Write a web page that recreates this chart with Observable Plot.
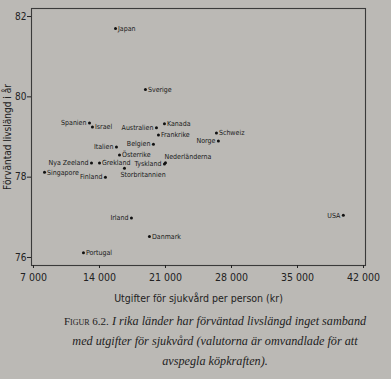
<!DOCTYPE html>
<html><head><meta charset="utf-8">
<script src="https://cdn.jsdelivr.net/npm/d3@7"></script>
<script src="https://cdn.jsdelivr.net/npm/@observablehq/plot@0.6"></script>
<style>
html,body{margin:0;padding:0;background:#bbb9b5;width:391px;height:379px;overflow:hidden;}
#chart{position:absolute;left:0;top:0;}
#cap{position:absolute;left:40px;top:311px;width:350px;text-align:center;font-family:"Liberation Serif","Times New Roman",serif;font-style:italic;font-size:12.2px;line-height:20px;color:#1e1e1e;}
#cap .fig{font-style:normal;font-variant:small-caps;font-size:11px;}
</style></head>
<body>
<div id="chart"></div>
<div id="cap"><span class="fig">Figur 6.2.</span> I rika länder har förväntad livslängd inget samband<br>med utgifter för sjukvård (valutorna är omvandlade för att<br>avspegla köpkraften).</div>
<script>
const countries = ["Japan","Sverige","Spanien","Israel","Australien","Kanada","Frankrike","Schweiz","Norge","Belgien","Italien","Österrike","Nederländerna","Tyskland","Storbritannien","Grekland","Nya Zeeland","Singapore","Finland","Irland","Danmark","Portugal","USA"];
const spending = [15700,18870,12940,13250,20040,20890,20250,26400,26610,19720,15800,16120,21000,20890,16650,14000,13150,8170,14630,17390,19300,12300,39860];
const lifeExp = [81.7,80.18,79.35,79.25,79.23,79.33,79.05,79.1,78.9,78.82,78.75,78.55,78.36,78.33,78.22,78.35,78.35,78.12,78.0,76.98,76.52,76.12,77.05];
const labelSide = ["right","right","left","right","left","right","right","right","left","left","left","right","upright","left","below","right","left","right","left","left","right","right","left"];
const xTicks = [7000,14000,21000,28000,35000,42000];
const yTicks = [76,78,80,82];

const data = countries.map((c,i)=>({country:c, x:spending[i], y:lifeExp[i], side:labelSide[i]}));
const fmt = d => d3.format(",")(d).replace(",", " ");
const lf = "'Liberation Sans Narrow','DejaVu Sans Condensed','Liberation Sans',sans-serif";

const plot = Plot.plot({
  width: 391, height: 306,
  marginLeft: 31, marginRight: 26, marginTop: 8, marginBottom: 41,
  style: {background: "transparent", fontFamily: lf, color: "#222"},
  x: {domain: [6790, 42210]},
  y: {domain: [75.8, 82.2]},
  marks: [
    Plot.frame({stroke: "#3a3a3a", strokeWidth: 1.1}),
    Plot.axisX({ticks: xTicks, tickFormat: fmt, tickSize: 3, tickPadding: 5, fontSize: 10.5, label: "Utgifter för sjukvård per person (kr)", labelAnchor: "center", labelOffset: 36, labelArrow: "none"}),
    Plot.axisY({ticks: yTicks, tickFormat: d => String(d), tickSize: 4, tickPadding: 1, fontSize: 10, label: "Förväntad livslängd i år", labelAnchor: "center", labelOffset: 28, labelArrow: "none"}),
    Plot.dot(data, {x: "x", y: "y", r: 1.5, fill: "#111", stroke: "none"}),
    Plot.text(data.filter(d=>d.side==="right"), {x:"x", y:"y", text:"country", textAnchor:"start", dx:2.5, fontSize:7, fill:"#1a1a1a"}),
    Plot.text(data.filter(d=>d.side==="left"), {x:"x", y:"y", text:"country", textAnchor:"end", dx:-3, fontSize:7, fill:"#1a1a1a"}),
    Plot.text(data.filter(d=>d.side==="upright"), {x:"x", y:"y", text:"country", textAnchor:"start", dx:-1, dy:-6, fontSize:7, fill:"#1a1a1a"}),
    Plot.text(data.filter(d=>d.side==="below"), {x:"x", y:"y", text:"country", textAnchor:"start", dx:-4, dy:6, fontSize:7, fill:"#1a1a1a"})
  ]
});
document.getElementById("chart").appendChild(plot);
</script>
</body></html>
